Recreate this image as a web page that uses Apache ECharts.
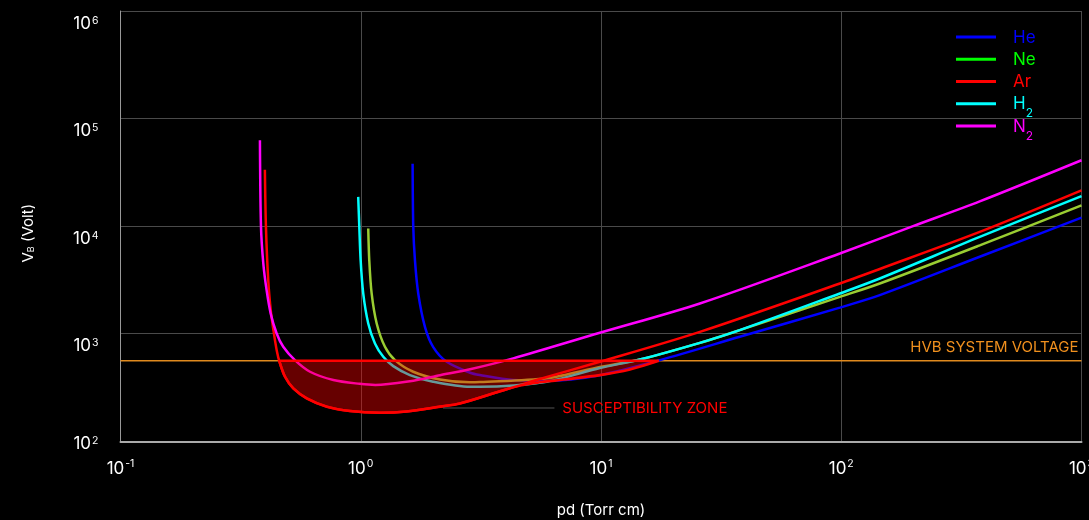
<!DOCTYPE html>
<html><head><meta charset="utf-8">
<script src="https://cdn.jsdelivr.net/npm/echarts@6/dist/echarts.min.js"></script>
<style>html,body{margin:0;padding:0;background:#000}#c{width:1089px;height:520px}</style>
</head><body><div id="c"></div>
<script>
// ---- data (pd in Torr·cm, V in Volt) ----
const gasNames = ['He', 'Ne', 'Ar', 'H2', 'N2'];
const gasLabels = [['He', ''], ['Ne', ''], ['Ar', ''], ['H', '2'], ['N', '2']];
const heData = [[1.644,38000],[1.654,10000],[1.681,4825],[1.735,2367],[1.85,1160],[2.0,756],[2.28,548],[2.85,434],[3.13,413],[4.31,371],[5.94,365],[9.89,412],[17.6,568],[37.8,936],[98.7,1750],[144.7,2283],[377,5190],[1000,12000]];
const neData = [[1.0745,9500],[1.085,4825],[1.11,2367],[1.165,1246],[1.261,756],[1.388,568],[1.654,443],[2.136,376],[2.85,353],[3.13,355],[5.94,385],[9.89,490],[14.5,576],[25.8,823],[37.8,1080],[98.7,2200],[144.7,2930],[377,6630],[1000,15600]];
const arData = [[0.399,33500],[0.403,10000],[0.412,3150],[0.422,1660],[0.433,1080],[0.447,700],[0.461,530],[0.484,398],[0.524,310],[0.596,251],[0.722,210],[0.902,191],[1.2,184],[1.55,189],[2.14,210],[2.59,225],[3.8,292],[5.57,380],[9.89,548],[25.8,1041],[98.7,2931],[144.7,4000],[377,8835],[1000,21500]];
const h2Data = [[0.976,18700],[0.986,10000],[0.999,4825],[1.024,2367],[1.0745,1246],[1.146,813],[1.241,610],[1.366,500],[1.602,413],[2.0,358],[2.85,321],[3.13,321],[5.94,358],[9.89,480],[14.5,576],[25.8,823],[37.8,1080],[98.7,2367],[144.7,3263],[377,7940],[1000,19000]];
const n2Data = [[0.3805,62800],[0.3843,10000],[0.393,4500],[0.4056,2540],[0.4217,1543],[0.4467,1006],[0.4758,756],[0.532,568],[0.615,443],[0.769,371],[0.99,342],[1.15,334],[1.6,362],[2.14,412],[2.85,467],[4.31,590],[9.89,1020],[25.8,1911],[98.7,5570],[199,10000],[377,17000],[1000,41000]];
const hvbVoltage = 560;
const zoneLower = [[0.458,560],[0.484,398],[0.524,310],[0.596,251],[0.722,210],[0.902,191],[1.2,184],[1.55,189],[2.14,210],[2.59,225],[3.8,292],[4.6,330],[5.5,352],[7,375],[9.89,412],[13.2,465],[17.4,560]];
const xTickExp = ['-1','0','1','2','3'];
const yTickExp = ['2','3','4','5','6'];
const zoneLabel = 'SUSCEPTIBILITY ZONE';
const hvbLabel = 'HVB SYSTEM VOLTAGE';
const zoneLeader = [[2.2,204],[6.4,204]];
const zoneTextAt = [6.9,204];

// ---- styles ----
const FONT = 'Inter, "DejaVu Sans", sans-serif';
const lineColors = ['#0000ff','#9acd32','#ff0000','#00ffff','#ff00ff'];
const legendColors = ['#0000ff','#00ff00','#ff0000','#00ffff','#ff00ff'];
const gasData = [heData, neData, arData, h2Data, n2Data];

const chart = echarts.init(document.getElementById('c'), null, {renderer: 'canvas'});

function xRich() {
  return {
    b: {fontSize: 17, color: '#fff', fontFamily: FONT, lineHeight: 20, verticalAlign: 'bottom'},
    s: {fontSize: 10.5, color: '#fff', fontFamily: FONT, lineHeight: 12, padding: [0,0,8,1], verticalAlign: 'bottom'}
  };
}
function yRich() {
  return {
    b: {fontSize: 17, color: '#fff', fontFamily: FONT, lineHeight: 20, padding: [14,0,0,0], verticalAlign: 'top'},
    s: {fontSize: 10.5, color: '#fff', fontFamily: FONT, lineHeight: 12, padding: [14,0,0,1], verticalAlign: 'top'},
    b0: {fontSize: 17, color: '#fff', fontFamily: FONT, lineHeight: 20, padding: [4,0,0,0], verticalAlign: 'top'},
    s0: {fontSize: 10.5, color: '#fff', fontFamily: FONT, lineHeight: 12, padding: [4,0,0,1], verticalAlign: 'top'}
  };
}
function expIndex(v, base) { return Math.round(Math.log10(v)) - base; }

const legendRich = {};
gasNames.forEach((n, i) => {
  legendRich['m' + i] = {color: legendColors[i], fontSize: 17, fontFamily: FONT, lineHeight: 18, padding: [1,0,0,0], verticalAlign: 'top'};
  legendRich['s' + i] = {color: legendColors[i], fontSize: 12, fontFamily: FONT, lineHeight: 12, padding: [13,0,0,0], verticalAlign: 'top'};
});

const series = gasNames.map((n, i) => ({
  name: n, type: 'line', data: gasData[i], symbol: 'none', smooth: 0.3,
  lineStyle: {color: lineColors[i], width: 2.5}, itemStyle: {color: lineColors[i]}, z: 3, silent: true
}));
series.push({
  name: 'HVB', type: 'line', data: [[0.1, hvbVoltage],[1000, hvbVoltage]], symbol: 'none',
  lineStyle: {color: '#e08a1e', width: 1.5}, z: 2, silent: true
});
series.push({
  name: 'zone', type: 'custom', coordinateSystem: 'cartesian2d', z: 10, silent: true,
  data: [[1, 1000]],
  renderItem: function (params, api) {
    const lower = zoneLower.map(p => api.coord(p));
    const left = api.coord([zoneLower[0][0], hvbVoltage]);
    const right = api.coord([zoneLower[zoneLower.length-1][0], hvbVoltage]);
    const poly = lower.concat([right, left]);
    const l1 = api.coord(zoneLeader[0]), l2 = api.coord(zoneLeader[1]);
    const tp = api.coord(zoneTextAt);
    const hv = api.coord([1000, hvbVoltage]);
    return {type: 'group', children: [
      {type: 'polygon', shape: {points: poly}, style: {fill: 'rgba(255,0,0,0.4)', stroke: null}},
      {type: 'polyline', shape: {points: lower, smooth: 0.3}, style: {stroke: '#ff0000', lineWidth: 2.6, fill: null}},
      {type: 'line', shape: {x1: left[0], y1: left[1], x2: right[0], y2: right[1]}, style: {stroke: '#ff0000', lineWidth: 2.6}},
      {type: 'line', shape: {x1: l1[0], y1: l1[1], x2: l2[0], y2: l2[1]}, style: {stroke: '#555', lineWidth: 1}},
      {type: 'text', x: tp[0], y: tp[1], style: {text: zoneLabel, fill: '#ff0000', font: '15px ' + FONT, textAlign: 'left', textVerticalAlign: 'middle'}},
      {type: 'text', x: hv[0] - 3, y: hv[1] - 6, style: {text: hvbLabel, fill: '#f0901e', font: '15px ' + FONT, textAlign: 'right', textVerticalAlign: 'bottom'}}
    ]};
  }
});

chart.setOption({
  backgroundColor: '#000',
  animation: false,
  grid: {left: 120.5, right: 7.5, top: 11, bottom: 78.7, containLabel: false, outerBoundsMode: 'none'},
  legend: {
    orient: 'vertical', left: 956, top: 28, padding: 0, itemWidth: 40, itemHeight: 3, itemGap: -2.75,
    icon: 'rect',
    textStyle: {fontSize: 17, fontFamily: FONT, padding: [0,0,0,12], rich: legendRich},
    formatter: function (name) {
      const i = gasNames.indexOf(name);
      return '{m' + i + '|' + gasLabels[i][0] + '}{s' + i + '|' + (gasLabels[i][1] || ' ') + '}';
    },
    data: gasNames.map((n, i) => ({name: n, itemStyle: {color: legendColors[i]}}))
  },
  xAxis: {
    type: 'log', logBase: 10, min: 0.1, max: 1000,
    name: 'pd (Torr cm)', nameLocation: 'middle', nameGap: 62,
    nameTextStyle: {color: '#fff', fontSize: 15, fontFamily: FONT},
    axisLine: {show: true, lineStyle: {color: '#aaa', width: 2}},
    axisTick: {show: false}, minorTick: {show: false},
    axisLabel: {margin: 16, formatter: v => '{b|10}{s|' + xTickExp[expIndex(v, -1)] + '}', rich: xRich()},
    splitLine: {show: true, lineStyle: {color: '#4a4a4a', width: 1}}
  },
  yAxis: {
    type: 'log', logBase: 10, min: 100, max: 1000000,
    name: '{a|V}{sub|B}{a| (Volt)}', nameLocation: 'middle', nameGap: 85, nameRotate: 90,
    nameTextStyle: {color: '#fff', fontSize: 15, fontFamily: FONT, padding: [0,14,0,0],
      rich: {a: {fontSize: 15, color: '#fff', fontFamily: FONT, lineHeight: 20, verticalAlign: 'bottom'},
             sub: {fontSize: 9, color: '#fff', fontFamily: FONT, lineHeight: 12, padding: [6,0,0,0], verticalAlign: 'bottom'}}},
    axisLine: {show: true, lineStyle: {color: '#999', width: 1}},
    axisTick: {show: false}, minorTick: {show: false},
    axisLabel: {margin: 22, formatter: v => {
      const k = expIndex(v, 2);
      const t = k === 0 ? '0' : '';
      return '{b' + t + '|10}{s' + t + '|' + yTickExp[k] + '}';
    }, rich: yRich()},
    splitLine: {show: true, lineStyle: {color: '#4a4a4a', width: 1}}
  },
  series: series
});
</script></body></html>
